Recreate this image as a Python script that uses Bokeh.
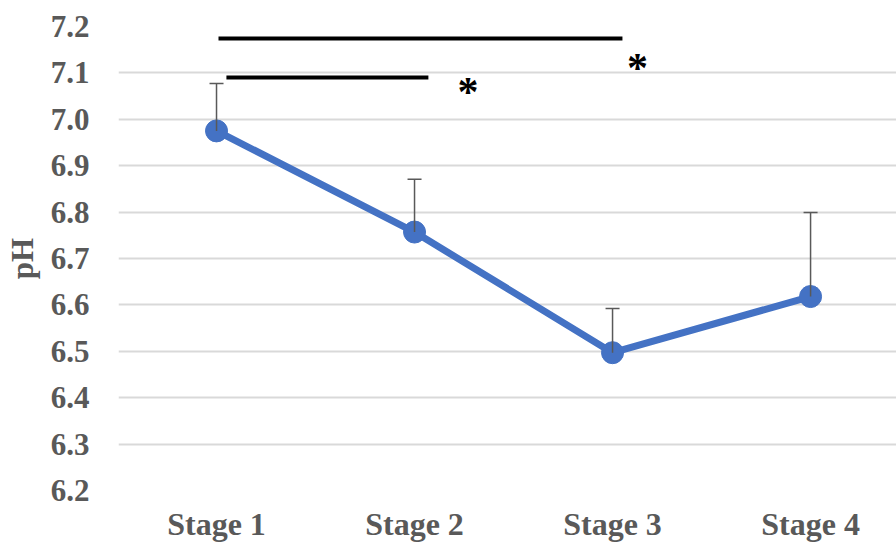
from bokeh.plotting import figure
from bokeh.models import Range1d, FixedTicker, Whisker, TeeHead, ColumnDataSource
from bokeh.core.properties import value
from bokeh.embed import file_html
from bokeh.resources import INLINE

# ---- data ----
stages = ["Stage 1", "Stage 2", "Stage 3", "Stage 4"]
ph_mean = [6.975, 6.757, 6.497, 6.618]
ph_upper = [7.077, 6.871, 6.592, 6.799]
y_ticks = [6.2, 6.3, 6.4, 6.5, 6.6, 6.7, 6.8, 6.9, 7.0, 7.1, 7.2]

# significance brackets (x in stage index units, y in pH)
sig_x0 = [1.01, 1.05]
sig_x1 = [3.05, 2.07]
sig_y = [7.174, 7.090]
star_x = [3.126, 2.27]
star_y = [7.110, 7.058]
star_txt = ["*", "*"]

xs = [i + 1 for i in range(len(stages))]
FONT = "Liberation Serif"
GRAY = "#595959"
BLUE = "#4472C4"

p = figure(width=896, height=544, output_backend="svg", toolbar_location=None,
           x_range=Range1d(0.505, 4.434), y_range=Range1d(6.2, 7.2),
           min_border_left=118, min_border_right=0, min_border_top=26,
           min_border_bottom=0)
p.outline_line_color = None
p.background_fill_color = "white"
p.border_fill_color = "white"

# axes
p.xaxis.ticker = FixedTicker(ticks=xs)
p.xaxis.major_label_overrides = {x: s for x, s in zip(xs, stages)}
p.yaxis.ticker = FixedTicker(ticks=y_ticks)
p.yaxis.major_label_overrides = {t: f"{t:.1f}" for t in y_ticks}
for ax in (p.xaxis, p.yaxis):
    ax.axis_line_color = None
    ax.major_tick_line_color = None
    ax.minor_tick_line_color = None
    ax.major_tick_out = 0
    ax.major_tick_in = 0
    ax.major_label_text_font = FONT
    ax.major_label_text_font_style = "bold"
    ax.major_label_text_color = GRAY
p.xaxis.major_label_text_font_size = "32px"
p.yaxis.major_label_text_font_size = "31px"
p.xaxis.major_label_standoff = 15
p.yaxis.major_label_standoff = 29
p.yaxis.axis_label = "pH"
p.yaxis.axis_label_text_font = FONT
p.yaxis.axis_label_text_font_style = "bold"
p.yaxis.axis_label_text_font_size = "31px"
p.yaxis.axis_label_text_color = GRAY
p.yaxis.axis_label_standoff = 8

p.xgrid.grid_line_color = None
p.ygrid.grid_line_color = "#d9d9d9"
p.ygrid.grid_line_width = 2

src = ColumnDataSource(dict(x=xs, mean=ph_mean, upper=ph_upper))

# error bars (upper only)
wh = Whisker(base="x", lower="mean", upper="upper", source=src, dimension="height",
             line_color=GRAY, line_width=1.5,
             upper_head=TeeHead(size=14, line_color=GRAY, line_width=1.5),
             lower_head=None, level="glyph")
p.add_layout(wh)

p.line("x", "mean", source=src, line_color=BLUE, line_width=7)
p.scatter("x", "mean", source=src, size=22, fill_color=BLUE, line_color=BLUE)

# significance bars
p.segment(x0=sig_x0, y0=sig_y, x1=sig_x1, y1=sig_y, line_color="black", line_width=4)
p.text(x=star_x, y=star_y, text=star_txt, text_font=value(FONT), text_font_style="bold",
       text_font_size="42px", text_align="center", text_baseline="middle", text_color="black")

open("out.html", "w").write(file_html(p, INLINE))
